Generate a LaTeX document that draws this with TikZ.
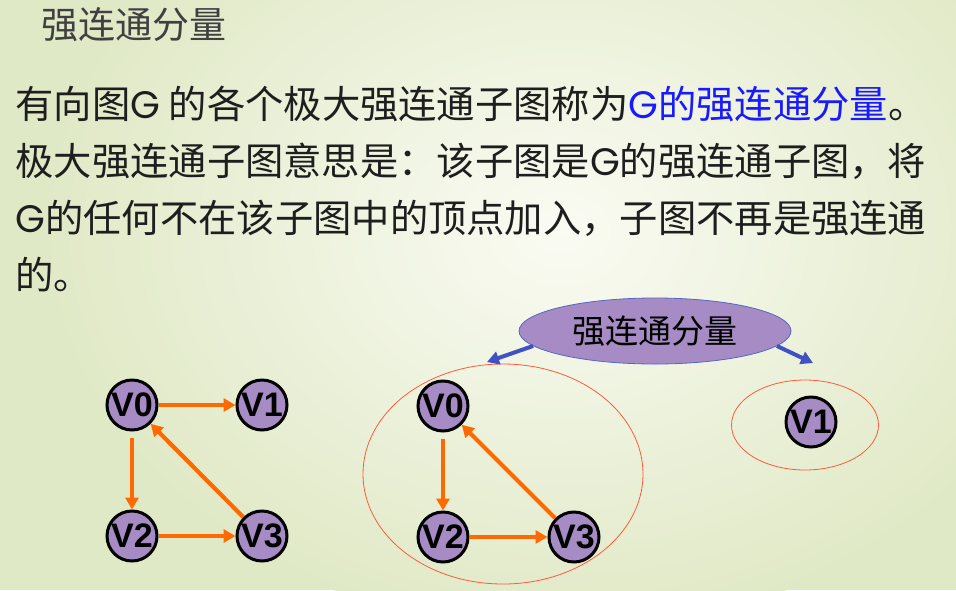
\documentclass[tikz,border=0pt]{standalone}
\usepackage{fontspec}
\setmainfont{Liberation Sans}
\newfontfamily\cjk{Noto Sans CJK SC}
\newfontfamily\geo{Poppins}
\newcommand{\gG}{{\geo G}}
\usetikzlibrary{positioning,arrows.meta,shapes.geometric}
\definecolor{bgGreen}{HTML}{E0E9C6}
\definecolor{bgLight}{HTML}{FAFBF3}
\definecolor{textDark}{HTML}{1E1E1E}
\definecolor{linkBlue}{HTML}{1A1AFF}
\definecolor{vertFill}{HTML}{A68BC4}
\definecolor{edgeOrange}{HTML}{FF6A00}
\definecolor{ringRed}{HTML}{FF5A3C}
\definecolor{ptrBlue}{HTML}{4052C2}
\definecolor{tagBorder}{HTML}{5566C4}

\begin{document}
\begin{tikzpicture}[x=1pt,y=-1pt,
          every node/.style={text=textDark},
          line/.style={anchor=base west,font=\cjk\fontsize{38.3}{38}\selectfont},
          vert/.style={circle,draw=black,line width=3pt,fill=vertFill,
                       minimum size=50pt,inner sep=0pt,
                       font=\bfseries\fontsize{34}{34}\selectfont,text=black},
          edge/.style={draw=edgeOrange,line width=4.2pt,
                       -{Triangle[length=12pt,width=13pt]}},
          ring/.style={ellipse,draw=ringRed,line width=0.8pt,inner sep=0pt},
          pointer/.style={draw=ptrBlue,line width=4pt,
                          -{Triangle[length=12pt,width=13pt]}},
        ]
        \useasboundingbox (0,0) rectangle (956,590);
        % background
        \fill[bgGreen] (0,0) rectangle (956,590);
        \shade[inner color=bgLight,outer color=bgGreen] (560,230) ellipse (520 and 400);
        % title and text
        \node[line,font=\cjk\fontsize{37}{37}\selectfont,text=textDark!85]
              (title) at (38,38) {强连通分量};
        \node[line] (l1) at (12,118) {有向图\gG{} 的各个极大强连通子图称为\textcolor{linkBlue}{\gG{}的强连通分量}。};
        \node[line] (l2) at (12,175) {极大强连通子图意思是：该子图是\gG{}的强连通子图，将};
        \node[line] (l3) at (12,232) {\gG{}的任何不在该子图中的顶点加入，子图不再是强连通};
        \node[line] (l4) at (12,289) {的。};
        % graph G
        \node[vert] (a0) at (132,405) {V0};
        \node[vert] (a1) at (262,405) {V1};
        \node[vert] (a2) at (132,536) {V2};
        \node[vert] (a3) at (262,536) {V3};
        \draw[edge] (a0) -- (a1);
        \draw[edge,shorten <=6pt] (a0) -- (a2);
        \draw[edge] (a2) -- (a3);
        \draw[edge] (a3) -- (a0);
        % first component
        \node[ring,minimum width=280pt,minimum height=220pt] (ringA) at (503,474) {};
        \node[vert] (b0) at (443,406) {V0};
        \node[vert] (b2) at (443,537) {V2};
        \node[vert] (b3) at (574,537) {V3};
        \draw[edge,shorten <=6pt] (b0) -- (b2);
        \draw[edge] (b2) -- (b3);
        \draw[edge] (b3) -- (b0);
        % second component
        \node[ring,minimum width=147pt,minimum height=90pt] (ringB) at (805,425) {};
        \node[vert] (c1) at (811,422) {V1};
        % label
        \node[ellipse,draw=tagBorder,line width=0.8pt,fill=vertFill,
              minimum width=272pt,minimum height=66pt,
              font=\cjk\fontsize{33}{33}\selectfont,text=black]
              (tag) at (655,331) {强连通分量};
        \coordinate (pA) at (487,362);
        \coordinate (pB) at (813,363);
        \draw[pointer] (tag.187) -- (pA);
        \draw[pointer] (tag.-7) -- (pB);
      \end{tikzpicture}
\end{document}
